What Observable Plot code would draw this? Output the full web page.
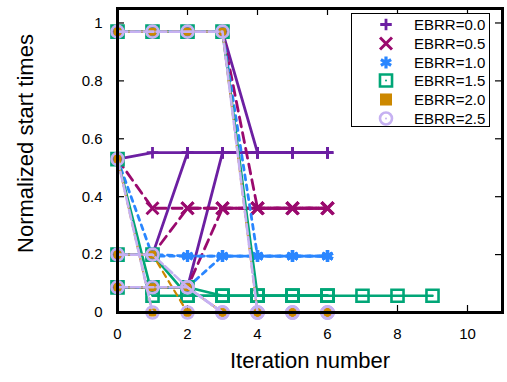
<!DOCTYPE html>
<html><head><meta charset="utf-8">
<script src="https://cdn.jsdelivr.net/npm/d3@7"></script>
<script src="https://cdn.jsdelivr.net/npm/@observablehq/plot@0.6"></script>
<style>
body{margin:0;background:#fff;font-family:"Liberation Sans",Arial,sans-serif}
#wrap{position:relative;width:507px;height:382px;overflow:hidden}
#legend{position:absolute;left:351px;top:13px;width:139px;height:114px;border:1px solid #000;background:#fff;box-sizing:border-box}
.row{position:absolute;left:0;height:19px;width:137px;font-size:15px;line-height:19px;color:#000}
.row svg{position:absolute;left:24px;top:0}
.row span{position:absolute;left:62px;top:0;white-space:nowrap}
</style></head>
<body><div id="wrap"></div>
<script>
// ---- data ----
const seriesNames = ["EBRR=0.0","EBRR=0.5","EBRR=1.0","EBRR=1.5","EBRR=2.0","EBRR=2.5"];
const xTicks = [0,2,4,6,8,10];
const yTicks = [0,0.2,0.4,0.6,0.8,1];
// each series: trajectories of normalized start times, index = iteration number
const ebrr00 = [
  [0.53,0.552,0.552,0.552,0.552,0.552,0.552],
  [0.2,0.2,0.552,0.552,0.552,0.552,0.552],
  [0.087,0.087,0.087,0.552,0.552,0.552,0.552],
  [0.97,0.97,0.97,0.97,0.552,0.552,0.552]];
const ebrr05 = [
  [0.53,0.36,0.36,0.36,0.36,0.36,0.36],
  [0.2,0.2,0.36,0.36,0.36,0.36,0.36],
  [0.087,0.087,0.087,0.36,0.36,0.36,0.36],
  [0.97,0.97,0.97,0.97,0.36,0.36,0.36]];
const ebrr10 = [
  [0.53,0.195,0.195,0.195,0.195,0.195,0.195],
  [0.2,0.2,0.195,0.195,0.195,0.195,0.195],
  [0.087,0.087,0.087,0.195,0.195,0.195,0.195],
  [0.97,0.97,0.97,0.97,0.195,0.195,0.195]];
const ebrr15 = [
  [0.53,0.058,0.058,0.058,0.058,0.058,0.058,0.058,0.058,0.058],
  [0.2,0.2,0.058,0.058,0.058,0.058,0.058],
  [0.087,0.087,0.087,0.058,0.058,0.058,0.058],
  [0.97,0.97,0.97,0.97,0.058,0.058,0.058]];
const ebrr20 = [
  [0.53,0,0,0,0,0,0],
  [0.2,0.2,0,0,0,0,0],
  [0.087,0.087,0.087,0,0,0,0],
  [0.97,0.97,0.97,0.97,0,0,0]];
const ebrr25 = [
  [0.53,0,0,0,0,0,0],
  [0.2,0.2,0.087,0,0,0,0],
  [0.087,0.087,0.087,0,0,0,0],
  [0.97,0.97,0.97,0.97,0,0,0]];
const allSeries = [ebrr00,ebrr05,ebrr10,ebrr15,ebrr20,ebrr25];

// ---- styles ----
const colors = ["#6c1fa2","#9a0a6e","#2a86ff","#00a677","#cc8800","#c6b1f2"];
const dashes = [null,"10,6","5,5",null,"6,5","10,3"];
const widths = [2.8,2.8,2.8,2.6,2.2,2.6];
const symbols = ["plus","times","asterisk","square","square","circle"];
const radii = [3.8,5.5,5.6,6.8,4.6,6];
const strokes = [2.8,3,3.2,2.6,0,2.6];
const filled = [false,false,false,false,true,false];

const marks = [];
allSeries.forEach((s,i)=>{
  const rows = [];
  s.forEach((traj,j)=>traj.forEach((v,k)=>rows.push({iter:k,value:v,job:j})));
  marks.push(Plot.line(rows,{x:"iter",y:"value",z:"job",stroke:colors[i],strokeWidth:widths[i],strokeDasharray:dashes[i]}));
  marks.push(Plot.dot(rows,{x:"iter",y:"value",symbol:()=>symbols[i],r:radii[i],
    fill:filled[i]?colors[i]:"none",stroke:filled[i]?"none":colors[i],strokeWidth:strokes[i]}));
});

const W=507,H=382,mL=117,mR=5,mT=8,mB=70;
const innerW=W-mL-mR, innerH=H-mT-mB;
const chart = Plot.plot({
  width:W,height:H,marginLeft:mL,marginRight:mR,marginTop:mT,marginBottom:mB,
  style:{fontFamily:"Liberation Sans, Arial, sans-serif",fontSize:"15px",color:"#000",background:"#fff"},
  x:{domain:[0,11]},
  y:{domain:[0,1.05]},
  marks:[
    Plot.axisX(xTicks,{anchor:"bottom",tickSize:0,tickPadding:16,label:null,fontSize:15,tickFormat:d=>String(d)}),
    Plot.axisY(yTicks,{anchor:"left",tickSize:0,tickPadding:15,label:null,fontSize:15,tickFormat:d=>String(d)}),
    Plot.tickX(xTicks,{x:d=>d,insetTop:innerH-7,stroke:"#000",strokeWidth:1.2}),
    Plot.tickX(xTicks,{x:d=>d,insetBottom:innerH-7,stroke:"#000",strokeWidth:1.2}),
    Plot.tickY(yTicks,{y:d=>d,insetRight:innerW-7,stroke:"#000",strokeWidth:1.2}),
    Plot.tickY(yTicks,{y:d=>d,insetLeft:innerW-7,stroke:"#000",strokeWidth:1.2}),
    ...marks,
    Plot.frame({stroke:"#000",strokeWidth:3}),
    Plot.text(["Iteration number"],{frameAnchor:"bottom",dy:55,fontSize:22,fill:"#000",textAnchor:"middle"}),
    Plot.text(["Normalized start times"],{frameAnchor:"left",dx:-92,dy:-17,rotate:-90,fontSize:22,fill:"#000",textAnchor:"middle"})
  ]
});
const wrap=document.getElementById("wrap");
wrap.appendChild(chart);

// legend
const leg=document.createElement("div");leg.id="legend";wrap.appendChild(leg);
const symMap={plus:d3.symbolPlus,times:d3.symbolTimes,asterisk:d3.symbolAsterisk,square:d3.symbolSquare,circle:d3.symbolCircle};
seriesNames.forEach((name,i)=>{
  const row=document.createElement("div");row.className="row";row.style.top=(1+i*18.8)+"px";
  const sz = i===4?6.8*6.8*Math.PI:radii[i]*radii[i]*Math.PI;
  const p=d3.symbol(symMap[symbols[i]],sz)();
  let inner=`<path transform="translate(10,9.5)" d="${p}" fill="${filled[i]?colors[i]:"none"}" stroke="${filled[i]?"none":colors[i]}" stroke-width="${strokes[i]}"/>`;
  if(i===3||i===5) inner+=`<circle cx="10" cy="9.5" r="1" fill="${colors[i]}"/>`;
  row.innerHTML=`<svg width="20" height="19">${inner}</svg><span>${name}</span>`;
  leg.appendChild(row);
});
</script></body></html>
